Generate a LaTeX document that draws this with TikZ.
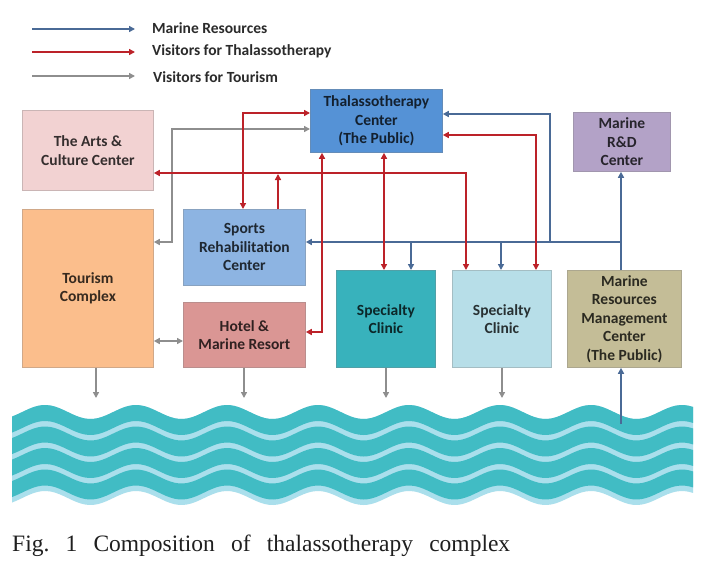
\documentclass[tikz,border=0pt]{standalone}
\usepackage{fontspec}
\setmainfont{Carlito}
\newfontfamily\capfont{Liberation Serif}
\usetikzlibrary{arrows.meta}
\definecolor{mblue}{HTML}{4A6A96}
\definecolor{tred}{HTML}{BC2229}
\definecolor{tgray}{HTML}{8E8E8E}
\definecolor{cArts}{HTML}{F2D2D2}
\definecolor{cTour}{HTML}{FBBE8C}
\definecolor{cSport}{HTML}{8DB4E2}
\definecolor{cHotel}{HTML}{DA9694}
\definecolor{cThal}{HTML}{5592D6}
\definecolor{cRnd}{HTML}{B3A2C7}
\definecolor{cClinA}{HTML}{38B2BC}
\definecolor{cClinB}{HTML}{B7DEE8}
\definecolor{cMrmc}{HTML}{C4BD97}
\definecolor{wteal}{HTML}{41BCC4}
\definecolor{wlight}{HTML}{AADFEC}
\definecolor{legtext}{HTML}{2B2B2B}
\tikzset{
  box/.style={fill=#1, draw=#1!65!gray, line width=0.8pt, inner sep=0pt,
    align=center, anchor=north west, text=#1!22!black,
    font=\bfseries\fontsize{15.5}{18.5}\selectfont},
  bluearr/.style={draw=mblue, line width=2pt, arrows={-Triangle[length=6pt,width=6pt]}},
  redarr/.style={draw=tred, line width=2.2pt},
  grayarr/.style={draw=tgray, line width=2pt},
  legtxt/.style={anchor=west, inner sep=0pt, text=legtext, font=\bfseries\fontsize{15.5}{18}\selectfont}
}
\begin{document}
\begin{tikzpicture}[x=1pt,y=-1pt]
\useasboundingbox (0,0) rectangle (701,563);
\fill[white] (0,0) rectangle (701,563);

% waves
\fill[wlight] plot[domain=12:693,samples=160] (\x,{412-7*cos(3.95604*(\x-45))})
  -- plot[domain=693:12,samples=160] (\x,{498-7*cos(3.95604*(\x-45))}) -- cycle;
\foreach \t in {412,433.5,455,476.5}{
  \fill[wteal] plot[domain=12:693,samples=160] (\x,{\t-7*cos(3.95604*(\x-45))})
    -- plot[domain=693:12,samples=160] (\x,{\t+16-7*cos(3.95604*(\x-45))}) -- cycle;
}

% legend
\coordinate (lb1) at (32,29);  \coordinate (lb2) at (135,29);
\coordinate (lr1) at (32,52);  \coordinate (lr2) at (135,52);
\coordinate (lg1) at (32,76);  \coordinate (lg2) at (135,76);
\draw[draw=mblue, line width=2pt, -{Triangle[length=6pt,width=6pt]}] (lb1) -- (lb2);
\draw[redarr, -{Triangle[length=6pt,width=6pt]}] (lr1) -- (lr2);
\draw[grayarr, -{Triangle[length=6pt,width=6pt]}] (lg1) -- (lg2);
\node[legtxt] (t1) at (152,28) {Marine Resources};
\node[legtxt] (t2) at (152,51) {Visitors for Thalassotherapy};
\node[legtxt] (t3) at (153,77) {Visitors for Tourism};

% boxes
\node[box=cArts, minimum width=131pt, minimum height=80pt] (arts) at (22,110) {The Arts \&\\Culture Center};
\node[box=cTour, minimum width=131pt, minimum height=158pt] (tour) at (22,209) {Tourism\\Complex};
\node[box=cSport, minimum width=122pt, minimum height=76pt] (sports) at (183,209) {Sports\\Rehabilitation\\Center};
\node[box=cHotel, minimum width=122pt, minimum height=65pt] (hotel) at (183,302) {Hotel \&\\Marine Resort};
\node[box=cThal, minimum width=132pt, minimum height=63pt] (thal) at (310,89) {Thalassotherapy\\Center\\(The Public)};
\node[box=cRnd, minimum width=97pt, minimum height=59pt] (rnd) at (573,112) {Marine\\R\&D\\Center};
\node[box=cClinA, minimum width=99pt, minimum height=97pt] (clin1) at (336,270) {Specialty\\Clinic};
\node[box=cClinB, minimum width=99pt, minimum height=97pt] (clin2) at (452,270) {Specialty\\Clinic};
\node[box=cMrmc, minimum width=114pt, minimum height=97pt] (mrmc) at (567,270) {Marine\\Resources\\Management\\Center\\(The Public)};

% blue connectors (marine resources)
\coordinate (bj) at (621,242);
\draw[bluearr, {Triangle[length=6pt,width=6pt]}-] (thal.east |- 0,114) -| (550,242);
\draw[bluearr] (621,0 |- mrmc.north) -- (621,0 |- rnd.south);
\draw[bluearr] (bj) -- (sports.east |- 0,242);
\draw[bluearr] (411,242) -- (411,0 |- clin1.north);
\draw[bluearr] (501,242) -- (501,0 |- clin2.north);
\coordinate (sea) at (621,424);
\draw[bluearr] (sea) -- (621,0 |- mrmc.south);

% gray connectors (tourism)
\draw[grayarr, {Triangle[length=6pt,width=6pt]}-{Triangle[length=6pt,width=6pt]}] (tour.east |- 0,242) -| (172,129) -- (thal.west |- 0,129);
\draw[grayarr, {Triangle[length=6pt,width=6pt]}-{Triangle[length=6pt,width=6pt]}] (tour.east |- 0,341) -- (hotel.west |- 0,341);
\foreach \n/\xx in {tour/96, hotel/244, clin1/386, clin2/502}{
  \draw[grayarr, -{Triangle[length=6pt,width=6pt]}] (\xx,0 |- \n.south) -- (\xx,398);
}

% red connectors (thalassotherapy)
\draw[redarr, {Triangle[length=6pt,width=6pt]}-{Triangle[length=6pt,width=6pt]}] (243,0 |- sports.north) |- (thal.west |- 0,113);
\draw[redarr, {Triangle[length=6pt,width=6pt]}-{Triangle[length=6pt,width=6pt]}] (arts.east |- 0,173) -| (466,0 |- clin2.north);
\draw[redarr, -{Triangle[length=6pt,width=6pt]}] (278,0 |- sports.north) -- (278,174);
\draw[redarr, {Triangle[length=6pt,width=6pt]}-{Triangle[length=6pt,width=6pt]}] (322,0 |- thal.south) |- (hotel.east |- 0,332);
\draw[redarr, {Triangle[length=6pt,width=6pt]}-{Triangle[length=6pt,width=6pt]}] (384,0 |- thal.south) -- (384,0 |- clin1.north);
\draw[redarr, {Triangle[length=6pt,width=6pt]}-{Triangle[length=6pt,width=6pt]}] (thal.east |- 0,135) -| (536,0 |- clin2.north);

% caption
\node[anchor=base west, inner sep=0pt, text=black!88, font=\capfont\fontsize{23.5}{24}\selectfont] (cap) at (12,551)
  {\frenchspacing\makebox[498pt][s]{Fig. 1 Composition of thalassotherapy complex}};
\end{tikzpicture}
\end{document}
